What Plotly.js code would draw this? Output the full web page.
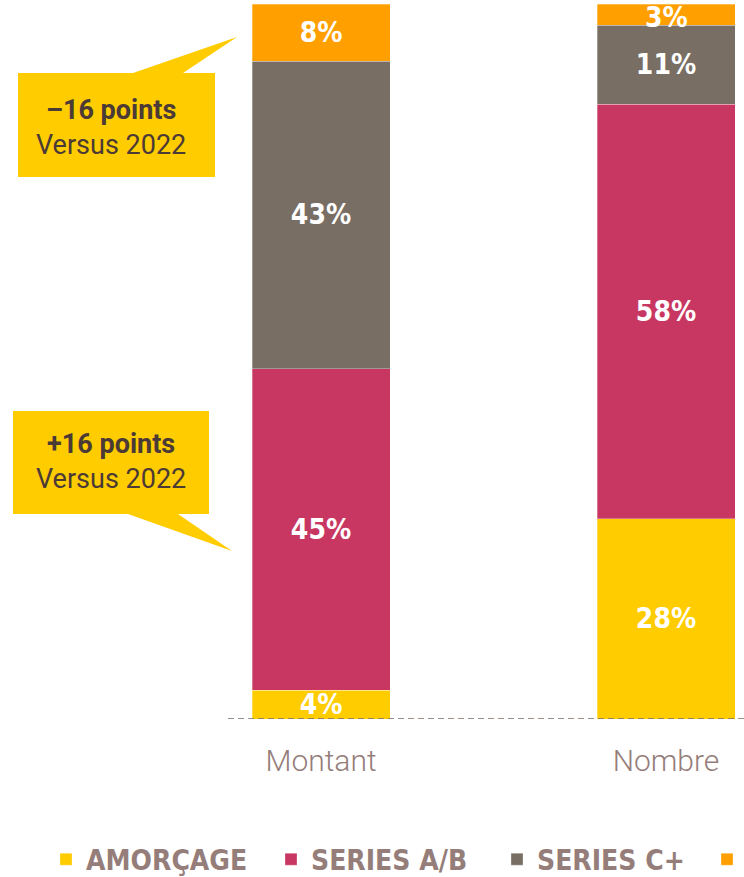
<!DOCTYPE html>
<html>
<head>
<meta charset="utf-8">
<script src="https://cdn.plot.ly/plotly-3.0.1.min.js"></script>
<style>
  html, body { margin: 0; padding: 0; background: #ffffff; }
  #chart { width: 744px; height: 877px; }
</style>
</head>
<body>
<div id="chart"></div>
<script>
// ---- data ----
const categories = ['Montant', 'Nombre'];
const seriesNames = ['AMORÇAGE', 'SERIES A/B', 'SERIES C+', ''];
const amorcage = [4, 28];
const seriesAB = [45, 58];
const seriesC = [43, 11];
const seriesOther = [8, 3];
const calloutBold = ['–16 points', '+16 points'];
const calloutSub = ['Versus 2022', 'Versus 2022'];

// ---- styles ----
const colors = ['#ffcc00', '#c83761', '#786e64', '#ffa000'];
const W = 744, H = 877;
const L = 228, T = 4, PB = 719; // plot area pixel bounds
const PW = W - L, PH = PB - T;
const px = x => (x - L) / PW;
const py = y => (PB - y) / PH;
const pathOf = pts => 'M' + pts.map(p => px(p[0]) + ',' + py(p[1])).join(' L') + ' Z';

const legendIds = ['legend', 'legend2', 'legend3', 'legend4'];
const legendX = [46, 271, 497, 707];
const condensed = '"DejaVu Sans Condensed", "DejaVu Sans", sans-serif';
const labelFont = { family: condensed, size: 28, color: '#ffffff', weight: 'bold' };

const allSeries = [amorcage, seriesAB, seriesC, seriesOther];
const lastIdx = allSeries.length - 1;
const traces = allSeries.map((vals, i) => ({
  type: 'bar',
  name: seriesNames[i],
  legend: legendIds[i],
  x: categories,
  y: vals,
  width: 0.4,
  marker: { color: colors[i], line: { color: 'rgba(255,255,255,0.5)', width: 0.6 } },
  // the thin top segment of "Nombre" gets its label as an annotation (below)
  text: vals.map((v, j) => (i === lastIdx && j === 1) ? '' : v + '%'),
  textposition: 'inside',
  insidetextanchor: 'middle',
  constraintext: 'none',
  cliponaxis: false,
  textangle: 0,
  textfont: labelFont,
  hoverinfo: 'name+y'
}));

const stackBelow = j => allSeries.slice(0, lastIdx).reduce((s, arr) => s + arr[j], 0);

const shapes = [
  { type: 'path', xref: 'paper', yref: 'paper', layer: 'above', line: { width: 0 }, fillcolor: '#ffcc00',
    path: pathOf([[18,73],[133,73],[237,37],[183,73],[215,73],[215,177],[18,177]]) },
  { type: 'path', xref: 'paper', yref: 'paper', layer: 'above', line: { width: 0 }, fillcolor: '#ffcc00',
    path: pathOf([[13,411],[209,411],[209,514],[178,514],[232,551],[128,514],[13,514]]) },
  { type: 'line', xref: 'paper', yref: 'y', x0: 0, x1: 1, y0: 0, y1: 0, layer: 'above',
    line: { color: '#786e64', width: 1.5, dash: '6px,4px' } }
];

const annotations = [
  { xref: 'paper', yref: 'paper', x: px(111), y: py(127.5), xanchor: 'center', yanchor: 'middle', showarrow: false,
    text: '<b>' + calloutBold[0] + '</b><br>' + calloutSub[0],
    font: { family: 'Roboto, sans-serif', size: 27, color: '#4b3a35' } },
  { xref: 'paper', yref: 'paper', x: px(111), y: py(461.5), xanchor: 'center', yanchor: 'middle', showarrow: false,
    text: '<b>' + calloutBold[1] + '</b><br>' + calloutSub[1],
    font: { family: 'Roboto, sans-serif', size: 27, color: '#4b3a35' } },
  { xref: 'x', yref: 'y', x: categories[1], y: stackBelow(1) + seriesOther[1] / 2,
    xanchor: 'center', yanchor: 'middle', yshift: -3, showarrow: false, borderpad: 0,
    text: seriesOther[1] + '%', font: labelFont }
];

const layout = {
  width: W, height: H,
  margin: { l: L, r: 0, t: T, b: H - PB, pad: 0 },
  paper_bgcolor: '#ffffff', plot_bgcolor: '#ffffff',
  barmode: 'stack',
  showlegend: true,
  xaxis: {
    type: 'category', range: [-0.2696, 1.2261],
    showgrid: false, zeroline: false, showline: false, ticks: '',
    ticklabelstandoff: 21,
    tickfont: { family: 'Roboto, sans-serif', size: 30, color: '#957d7a', weight: 300 },
    fixedrange: true
  },
  yaxis: {
    range: [0, 100], showgrid: false, zeroline: false, showline: false,
    showticklabels: false, ticks: '', fixedrange: true
  },
  shapes: shapes,
  annotations: annotations
};
legendIds.forEach((id, i) => {
  layout[id] = {
    orientation: 'h', xref: 'container', yref: 'container',
    x: legendX[i] / W, xanchor: 'left', y: (H - 859.5) / H, yanchor: 'middle',
    font: { family: condensed, size: 28, color: '#957d7a', weight: 'bold' },
    bgcolor: 'rgba(0,0,0,0)', borderwidth: 0
  };
});

Plotly.newPlot('chart', traces, layout, { displayModeBar: false, staticPlot: true });
</script>
</body>
</html>
